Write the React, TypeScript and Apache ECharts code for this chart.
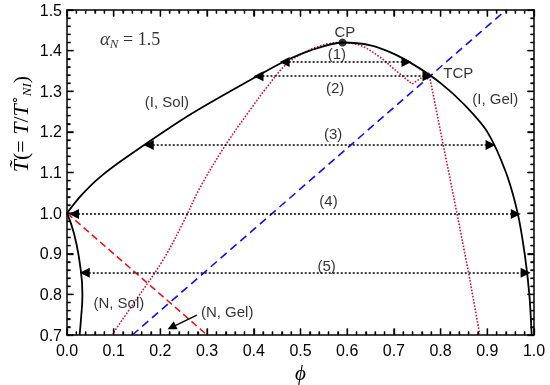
import React, { useEffect, useRef } from "react";
import * as echarts from "echarts";

// ---- data ----
const xTicks = [0, 0.1, 0.2, 0.3, 0.4, 0.5, 0.6, 0.7, 0.8, 0.9, 1.0];
const yTicks = [0.7, 0.8, 0.9, 1.0, 1.1, 1.2, 1.3, 1.4, 1.5];
const minorPerMajor = 5;

// outer binodal (phi, T)
const binodalOuter: [number, number][] = [
  [0, 1.0], [0.03, 1.043], [0.07, 1.088], [0.128, 1.138], [0.263, 1.242], [0.407, 1.337],
  [0.463, 1.372], [0.52, 1.4], [0.59, 1.42], [0.65, 1.413], [0.7, 1.392],
  [0.75, 1.36], [0.8, 1.32], [0.85, 1.268], [0.9, 1.2], [0.94, 1.1],
  [0.965, 1.0], [0.98, 0.9], [0.99, 0.8], [0.995, 0.7],
];
// inner binodal near phi = 0
const binodalInner: [number, number][] = [
  [0, 1.0], [0.015, 0.95], [0.027, 0.88], [0.033, 0.8], [0.03, 0.74], [0.027, 0.7],
];
const nematicLine: [number, number][] = [[0, 1.0], [0.3, 0.7]];
const gelLine: [number, number][] = [[0.14, 0.7], [0.94, 1.5]];
const spinodalLeft: [number, number][] = [
  [0.096, 0.7], [0.15, 0.79], [0.206, 0.885], [0.25, 0.98], [0.285, 1.063],
  [0.338, 1.165], [0.392, 1.254], [0.428, 1.31], [0.473, 1.37], [0.52, 1.402],
  [0.56, 1.417], [0.59, 1.42], [0.63, 1.412], [0.67, 1.384], [0.7, 1.355],
  [0.739, 1.318],
];
const spinodalMid: [number, number][] = [[0.739, 1.318], [0.775, 1.345]];
const spinodalRight: [number, number][] = [
  [0.775, 1.345], [0.8, 1.2], [0.835, 1.0], [0.86, 0.853], [0.884, 0.7],
];

// tie lines (arrows)
const tieT = [1.372, 1.337, 1.168, 0.998, 0.853];
const tieLeft = [0.466, 0.41, 0.175, 0.015, 0.038];
const tieRight = [0.727, 0.772, 0.907, 0.961, 0.982];

// labels
const labelText = ["(1)", "(2)", "(3)", "(4)", "(5)", "(I, Sol)", "(I, Gel)", "(N, Sol)", "(N, Gel)", "CP", "TCP"];
const labelX = [0.578, 0.574, 0.57, 0.56, 0.556, 0.214, 0.917, 0.111, 0.343, 0.595, 0.838];
const labelY = [1.394, 1.31, 1.197, 1.03, 0.872, 1.274, 1.283, 0.779, 0.757, 1.446, 1.345];

const cpPoint: [number, number] = [0.59, 1.42];
const gelArrowFrom: [number, number] = [0.278, 0.749];
const gelArrowTo: [number, number] = [0.224, 0.719];
const alphaPos: [number, number] = [0.135, 1.429];

const SANS = "Liberation Sans, Arial, Helvetica, sans-serif";
const SERIF = "Liberation Serif, Times New Roman, serif";

const W = 550, H = 385;
const GRID = { left: 67, right: 16, top: 10, bottom: 50 };

function subdivide(major: number[]): number[] {
  const out: number[] = [];
  for (let i = 0; i < major.length - 1; i++) {
    const step = (major[i + 1] - major[i]) / minorPerMajor;
    for (let k = 1; k < minorPerMajor; k++) out.push(major[i] + k * step);
  }
  return out;
}

export default function App() {
  const ref = useRef<HTMLDivElement>(null);
  useEffect(() => {
    if (!ref.current) return;
    const chart = echarts.init(ref.current, undefined, { renderer: "svg" });

    const xMin = xTicks[0], xMax = xTicks[xTicks.length - 1];
    const yMin = yTicks[0], yMax = yTicks[yTicks.length - 1];
    const xPerPx = (xMax - xMin) / (W - GRID.left - GRID.right);
    const yPerPx = (yMax - yMin) / (H - GRID.top - GRID.bottom);
    const MAJOR = 6.5, MINOR = 3.5;

    // ticks as [x, y, dxPx, dyPx]
    const ticks: number[][] = [];
    const addX = (vals: number[], len: number) => vals.forEach((v) => {
      ticks.push([v, yMin, 0, -len]);
      ticks.push([v, yMax, 0, len]);
    });
    const addY = (vals: number[], len: number) => vals.forEach((v) => {
      ticks.push([xMin, v, len, 0]);
      ticks.push([xMax, v, -len, 0]);
    });
    addX(xTicks, MAJOR); addX(subdivide(xTicks), MINOR);
    addY(yTicks, MAJOR); addY(subdivide(yTicks), MINOR);

    const tickLines = ticks.map((t) => [
      { coord: [t[0], t[1]] },
      { coord: [t[0] + t[2] * xPerPx, t[1] - t[3] * yPerPx] },
    ]);

    const axisCommon = {
      axisLine: { show: true, onZero: false, lineStyle: { color: "#000", width: 1.5 } },
      axisTick: { show: false },
      minorTick: { show: false },
      splitLine: { show: false },
    };

    const arrowLines = tieT.map((t, i) => [
      { coord: [tieLeft[i], t] },
      { coord: [tieRight[i], t] },
    ]);

    const labelData = labelText.map((txt, i) => ({
      value: [labelX[i], labelY[i]],
      label: { formatter: txt },
    }));

    const yName = {
      id: "yname",
      type: "text", x: 20, y: 124, rotation: Math.PI / 2,
      style: {
        text: "{i|T\u0303}{n|(= }{i|T}{n|/}{i|T}{sup|∘}{sub|NI}{n|)}",
        align: "center", verticalAlign: "middle",
        rich: {
          i: { fontFamily: SERIF, fontStyle: "italic", fontSize: 22, fill: "#000", lineHeight: 26, verticalAlign: "middle" },
          n: { fontFamily: SERIF, fontSize: 22, fill: "#000", lineHeight: 26, verticalAlign: "middle" },
          sup: { fontFamily: SERIF, fontSize: 13, fill: "#000", lineHeight: 26, verticalAlign: "top" },
          sub: { fontFamily: SERIF, fontStyle: "italic", fontSize: 13, fill: "#000", lineHeight: 26, verticalAlign: "bottom" },
        },
      },
    };

    const option: any = {
      animation: false,
      grid: { ...GRID, outerBoundsMode: "none", containLabel: false },
      xAxis: [
        {
          type: "value", min: xMin, max: xMax, interval: 0.1, position: "bottom",
          ...axisCommon,
          axisLabel: { show: true, margin: 7, color: "#000", fontSize: 16, fontFamily: SANS, formatter: (v: number) => v.toFixed(1) },
          name: "ϕ", nameLocation: "middle", nameGap: 26,
          nameTextStyle: { fontFamily: SERIF, fontStyle: "italic", fontSize: 21, color: "#000" },
        },
        {
          type: "value", min: xMin, max: xMax, interval: 0.1, position: "top",
          ...axisCommon, axisLabel: { show: false },
        },
      ],
      yAxis: [
        {
          type: "value", min: yMin, max: yMax, interval: 0.1, position: "left",
          ...axisCommon,
          axisLabel: { show: true, margin: 5, color: "#000", fontSize: 16, fontFamily: SANS, formatter: (v: number) => v.toFixed(1) },
        },
        {
          type: "value", min: yMin, max: yMax, interval: 0.1, position: "right",
          ...axisCommon, axisLabel: { show: false },
        },
      ],
      series: [
        {
          type: "line", data: [], showSymbol: false, z: 20,
          markLine: {
            silent: true, symbol: ["none", "none"],
            label: { show: false },
            lineStyle: { color: "#000", width: 1.3, type: "solid" },
            data: tickLines,
          },
        },
        {
          type: "line", data: binodalOuter, smooth: 0.3, showSymbol: false,
          lineStyle: { color: "#000", width: 1.8 }, z: 5,
        },
        {
          type: "line", data: binodalInner, smooth: 0.5, showSymbol: false,
          lineStyle: { color: "#000", width: 1.8 }, z: 5,
        },
        {
          type: "line", data: nematicLine, showSymbol: false,
          lineStyle: { color: "#e8141e", width: 1.6, type: [7, 4] }, z: 3,
        },
        {
          type: "line", data: gelLine, showSymbol: false,
          lineStyle: { color: "#1010ee", width: 1.6, type: [8, 5] }, z: 3,
        },
        {
          type: "line", data: spinodalLeft, smooth: 0.35, showSymbol: false,
          lineStyle: { color: "#d0103a", width: 1.6, type: [1.6, 1.6] }, z: 4,
        },
        {
          type: "line", data: spinodalMid, showSymbol: false,
          lineStyle: { color: "#d0103a", width: 1.6, type: [1.6, 1.6] }, z: 4,
        },
        {
          type: "line", data: spinodalRight, showSymbol: false,
          lineStyle: { color: "#d0103a", width: 1.6, type: [1.6, 1.6] }, z: 4,
        },
        {
          type: "line", data: [], showSymbol: false,
          markLine: {
            silent: true, symbol: ["triangle", "triangle"], symbolSize: 10,
            label: { show: false },
            lineStyle: { color: "#000", width: 1.6, type: [2, 2] },
            data: arrowLines,
          },
        },
        {
          type: "line", data: [], showSymbol: false,
          markLine: {
            silent: true, symbol: ["none", "triangle"], symbolSize: 9,
            label: { show: false },
            lineStyle: { color: "#000", width: 1.4, type: "solid" },
            data: [[{ coord: gelArrowFrom }, { coord: gelArrowTo }]],
          },
        },
        {
          type: "scatter", data: [cpPoint], symbolSize: 8,
          itemStyle: { color: "#000" }, z: 10,
        },
        {
          type: "scatter", data: labelData, symbolSize: 0, z: 11,
          label: { show: true, position: "inside", color: "#000", fontSize: 15, fontFamily: SANS },
        },
        {
          type: "scatter", data: [alphaPos], symbolSize: 0, z: 11,
          label: {
            show: true, position: "inside",
            formatter: "{i|α}{s|N}{n| = 1.5}",
            rich: {
              i: { fontFamily: SERIF, fontStyle: "italic", fontSize: 19, color: "#000", lineHeight: 22, verticalAlign: "middle" },
              s: { fontFamily: SERIF, fontStyle: "italic", fontSize: 13, color: "#000", lineHeight: 22, verticalAlign: "bottom" },
              n: { fontFamily: SERIF, fontSize: 18, color: "#000", lineHeight: 22, verticalAlign: "middle" },
            },
          },
        },
      ],
      graphic: [yName],
    };

    chart.setOption(option);

    // frame ticks as graphic lines placed through the chart's own scales
    const tickGraphics = ticks.map((t, i) => {
      const p = chart.convertToPixel({ gridIndex: 0 }, [t[0], t[1]]) as number[];
      return {
        id: "tick" + i,
        type: "line",
        z: 100,
        silent: true,
        shape: { x1: p[0], y1: p[1], x2: p[0] + t[2], y2: p[1] + t[3] },
        style: { stroke: "#000", lineWidth: 1.3 },
      };
    });
    chart.setOption({ graphic: [yName, ...tickGraphics] });

    return () => chart.dispose();
  }, []);

  return (
    <div
      ref={ref}
      style={{ position: "fixed", left: 0, top: 0, width: W, height: H }}
    />
  );
}
